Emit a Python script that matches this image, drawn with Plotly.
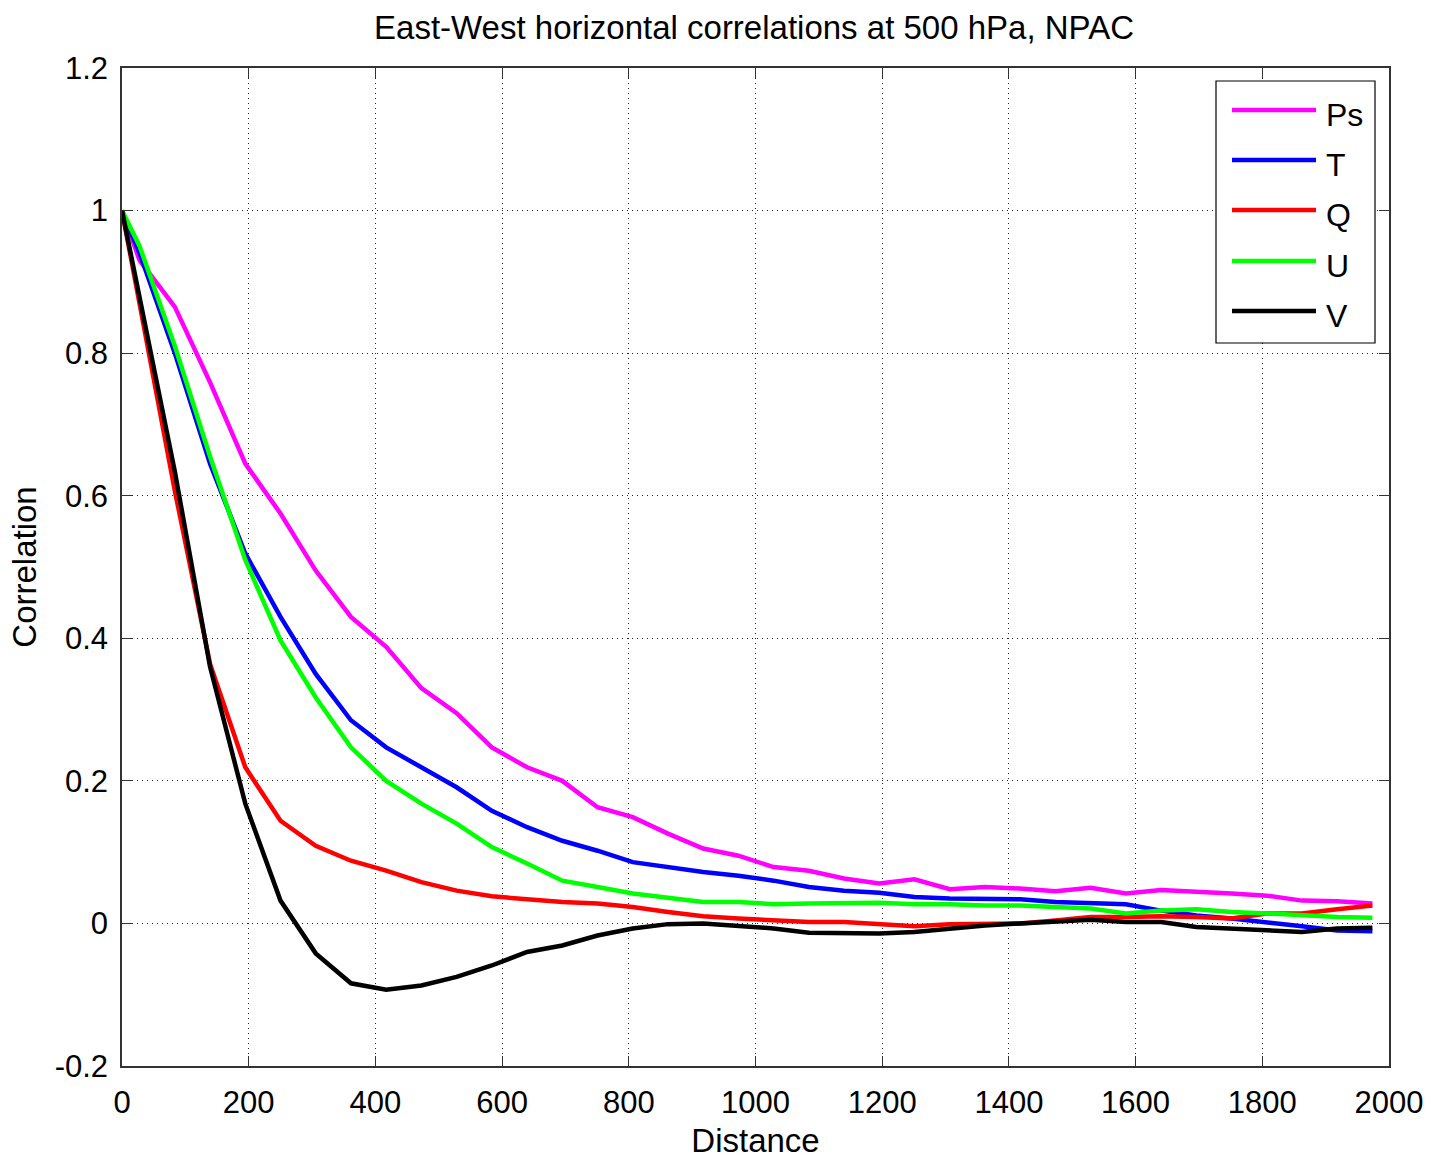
import plotly.graph_objects as go

# Distance bins (km): origin then bin centres
distance = [0] + [round(27.8 + 55.6 * k, 1) for k in range(36)]

ps = [1.0, 0.93, 0.865, 0.759, 0.645, 0.575, 0.495, 0.43, 0.388, 0.33, 0.295, 0.247, 0.219,
      0.2, 0.163, 0.149, 0.126, 0.105, 0.095, 0.079, 0.074, 0.063, 0.056, 0.062, 0.048, 0.051,
      0.049, 0.045, 0.05, 0.042, 0.047, 0.045, 0.042, 0.039, 0.032, 0.031, 0.028]
t = [1.0, 0.94, 0.80, 0.645, 0.519, 0.43, 0.35, 0.285, 0.247, 0.219, 0.191, 0.158, 0.135,
     0.116, 0.102, 0.086, 0.079, 0.072, 0.067, 0.06, 0.051, 0.046, 0.043, 0.037, 0.035, 0.034,
     0.034, 0.03, 0.028, 0.027, 0.018, 0.011, 0.007, 0.002, -0.004, -0.01, -0.011]
q = [1.0, 0.87, 0.607, 0.364, 0.219, 0.144, 0.109, 0.088, 0.074, 0.058, 0.046, 0.038, 0.034,
     0.03, 0.028, 0.023, 0.016, 0.01, 0.007, 0.005, 0.002, 0.002, -0.001, -0.004, -0.001, 0.0,
     0.0, 0.004, 0.009, 0.009, 0.01, 0.009, 0.007, 0.014, 0.014, 0.02, 0.025]
u = [1.0, 0.95, 0.81, 0.655, 0.51, 0.397, 0.317, 0.247, 0.2, 0.168, 0.14, 0.107, 0.084,
     0.06, 0.051, 0.042, 0.036, 0.03, 0.03, 0.027, 0.028, 0.028, 0.029, 0.027, 0.027, 0.025,
     0.025, 0.023, 0.021, 0.014, 0.018, 0.02, 0.016, 0.014, 0.011, 0.009, 0.008]
v = [1.0, 0.878, 0.634, 0.36, 0.168, 0.032, -0.042, -0.084, -0.093, -0.087, -0.075, -0.059, -0.04,
     -0.031, -0.017, -0.007, -0.001, 0.0, -0.003, -0.007, -0.013, -0.014, -0.014, -0.012, -0.007, -0.003,
     0.0, 0.002, 0.005, 0.002, 0.002, -0.005, -0.007, -0.009, -0.012, -0.007, -0.006]

series = [("Ps", ps, "#FF00FF"), ("T", t, "#0000FF"), ("Q", q, "#FF0000"),
          ("U", u, "#00FF00"), ("V", v, "#000000")]

xticks = [0, 200, 400, 600, 800, 1000, 1200, 1400, 1600, 1800, 2000]
yticks = [-0.2, 0, 0.2, 0.4, 0.6, 0.8, 1, 1.2]
ytick_text = ["-0.2", "0", "0.2", "0.4", "0.6", "0.8", "1", "1.2"]

FONT = "Liberation Sans, Arial, sans-serif"

fig = go.Figure()
for name, vals, col in series:
    fig.add_trace(go.Scatter(x=distance, y=vals, mode="lines", name=name,
                             line=dict(color=col, width=4.5), showlegend=False))

# Manual MATLAB-style legend (paper coordinates)
L, R, T_, B = 122, 1389, 68, 1066
def px(xp): return (xp - L) / (R - L)
def py(yp): return (B - yp) / (B - T_)

shapes = [dict(type="rect", xref="paper", yref="paper", x0=px(1216), x1=px(1375),
               y0=py(343), y1=py(81), line=dict(color="black", width=1.2), fillcolor="white",
               layer="above")]
annotations = []
leg_y = [110, 160, 210, 261, 311]
for (name, vals, col), yy in zip(series, leg_y):
    shapes.append(dict(type="line", xref="paper", yref="paper", x0=px(1232), x1=px(1316),
                       y0=py(yy), y1=py(yy), line=dict(color=col, width=4.5), layer="above"))
    annotations.append(dict(xref="paper", yref="paper", x=px(1324), y=py(yy + 5), text=name,
                            showarrow=False, xanchor="left", yanchor="middle",
                            font=dict(family=FONT, size=32, color="black")))

fig.update_layout(
    width=1433, height=1163,
    margin=dict(l=L, r=1433 - R, t=T_, b=1163 - B),
    paper_bgcolor="white", plot_bgcolor="white",
    title=dict(text="East-West horizontal correlations at 500 hPa, NPAC",
               x=(754) / 1433, xanchor="center", y=1 - 27 / 1163, yanchor="middle",
               font=dict(family=FONT, size=33, color="black")),
    shapes=shapes, annotations=annotations,
    font=dict(family=FONT, color="black"),
)
fig.update_xaxes(range=[0, 2000], tickvals=xticks, ticks="inside", ticklen=10, automargin=False,
                 tickcolor="#333", showline=True, linecolor="#333", linewidth=1.5, mirror="ticks",
                 showgrid=True, gridcolor="#222", griddash="1px,4px", gridwidth=1.2, zeroline=False,
                 tickfont=dict(size=31, family=FONT, color="black"), ticklabelstandoff=8,
                 title=dict(text="Distance", font=dict(size=33, family=FONT, color="black"), standoff=10))
fig.update_yaxes(range=[-0.2, 1.2], tickvals=yticks, ticktext=ytick_text, ticks="inside", ticklen=10,
                 automargin=False,
                 tickcolor="#333", showline=True, linecolor="#333", linewidth=1.5, mirror="ticks",
                 showgrid=True, gridcolor="#222", griddash="1px,4px", gridwidth=1.2, zeroline=False,
                 tickfont=dict(size=31, family=FONT, color="black"), ticklabelstandoff=6,
                 title=dict(text="Correlation", font=dict(size=33, family=FONT, color="black"), standoff=8))

fig.write_html("out.html")
